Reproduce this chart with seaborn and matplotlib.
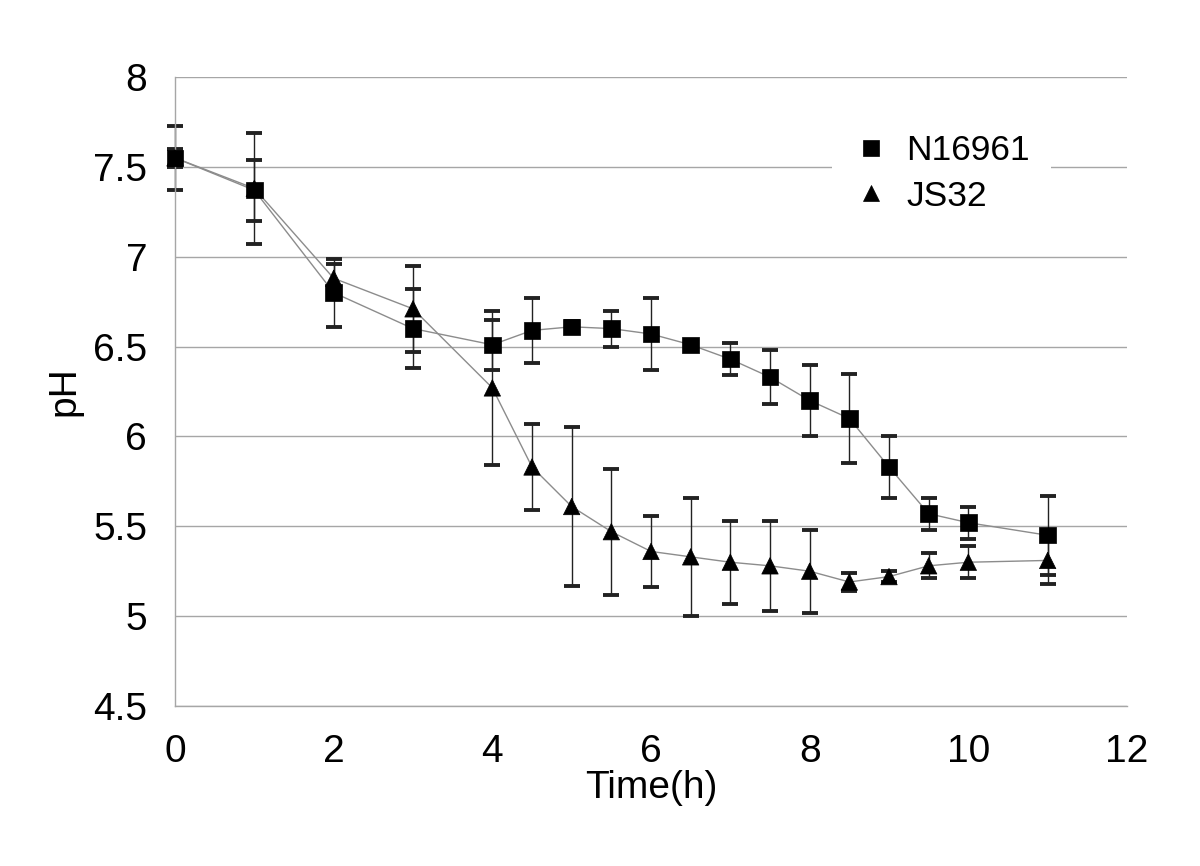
import matplotlib
matplotlib.use('Agg')
import pandas as pd
import matplotlib.pyplot as plt
import seaborn as sns

# Data
time_h = [0, 1, 2, 3, 4, 4.5, 5, 5.5, 6, 6.5, 7, 7.5, 8, 8.5, 9, 9.5, 10, 11]
n16961_ph = [7.55, 7.37, 6.80, 6.60, 6.51, 6.59, 6.61, 6.60, 6.57, 6.51,
             6.43, 6.33, 6.20, 6.10, 5.83, 5.57, 5.52, 5.45]
n16961_err = [0.18, 0.17, 0.19, 0.22, 0.14, 0.18, 0.03, 0.10, 0.20, 0.01,
              0.09, 0.15, 0.20, 0.25, 0.17, 0.09, 0.09, 0.22]
js32_ph = [7.55, 7.38, 6.88, 6.71, 6.27, 5.83, 5.61, 5.47, 5.36, 5.33,
           5.30, 5.28, 5.25, 5.19, 5.22, 5.28, 5.30, 5.31]
js32_err = [0.05, 0.31, 0.08, 0.24, 0.43, 0.24, 0.44, 0.35, 0.20, 0.33,
            0.23, 0.25, 0.23, 0.05, 0.03, 0.07, 0.09, 0.13]
strains = ['N16961', 'JS32']

df = pd.concat([
    pd.DataFrame({'time': time_h, 'pH': n16961_ph, 'err': n16961_err, 'strain': 'N16961'}),
    pd.DataFrame({'time': time_h, 'pH': js32_ph, 'err': js32_err, 'strain': 'JS32'}),
], ignore_index=True)

sns.set_style('white')
plt.rcParams['font.family'] = ['Liberation Sans', 'DejaVu Sans']
plt.rcParams['text.color'] = 'black'
plt.rcParams['axes.labelcolor'] = 'black'

fig = plt.figure(figsize=(12, 8.66), dpi=100)
ax = fig.add_axes([175 / 1200, 1 - 706 / 866, 952 / 1200, 629 / 866])

# error bars first so markers sit on top
for s in strains:
    d = df[df['strain'] == s]
    ax.errorbar(d['time'], d['pH'], yerr=d['err'], fmt='none', ecolor='#222222',
                elinewidth=1.0, capsize=5.5, capthick=2.8, zorder=2, clip_on=False)

# thin grey connecting lines
sns.lineplot(data=df, x='time', y='pH', units='strain', estimator=None,
             color='#8c8c8c', linewidth=1.0, legend=False, ax=ax, zorder=3)

# black markers
sns.scatterplot(data=df, x='time', y='pH', style='strain', style_order=strains,
                markers={'N16961': 's', 'JS32': '^'}, color='black', s=140,
                edgecolor='black', linewidth=0.5, ax=ax, zorder=4, clip_on=False)

ax.set_xlim(0, 12)
ax.set_ylim(4.5, 8)
ax.set_xticks(range(0, 13, 2))
ax.set_yticks([4.5, 5, 5.5, 6, 6.5, 7, 7.5, 8])
ax.set_yticklabels(['4.5', '5', '5.5', '6', '6.5', '7', '7.5', '8'])
ax.yaxis.grid(True, color='#a6a6a6', linewidth=1.0)
ax.set_axisbelow(True)

for side in ['top', 'right']:
    ax.spines[side].set_visible(False)
for side in ['left', 'bottom']:
    ax.spines[side].set_color('#a6a6a6')
    ax.spines[side].set_linewidth(1.0)

ax.tick_params(axis='both', direction='in', length=7, width=1.0, color='#a6a6a6',
               labelsize=28, pad=20, labelcolor='black')
ax.set_xlabel('Time(h)', fontsize=28, labelpad=0)
ax.set_ylabel('pH', fontsize=28, labelpad=8)

leg = ax.legend(loc='upper right', bbox_to_anchor=(0.939, 0.971), frameon=True,
                fontsize=25.5, handlelength=1.0, handletextpad=0.5,
                labelspacing=0.35, borderpad=0.6, markerscale=1.0)
leg.get_frame().set_facecolor('white')
leg.get_frame().set_edgecolor('none')
leg.get_frame().set_alpha(1)
for t in leg.get_texts():
    t.set_color('black')

fig.savefig('out.png', dpi=100)
